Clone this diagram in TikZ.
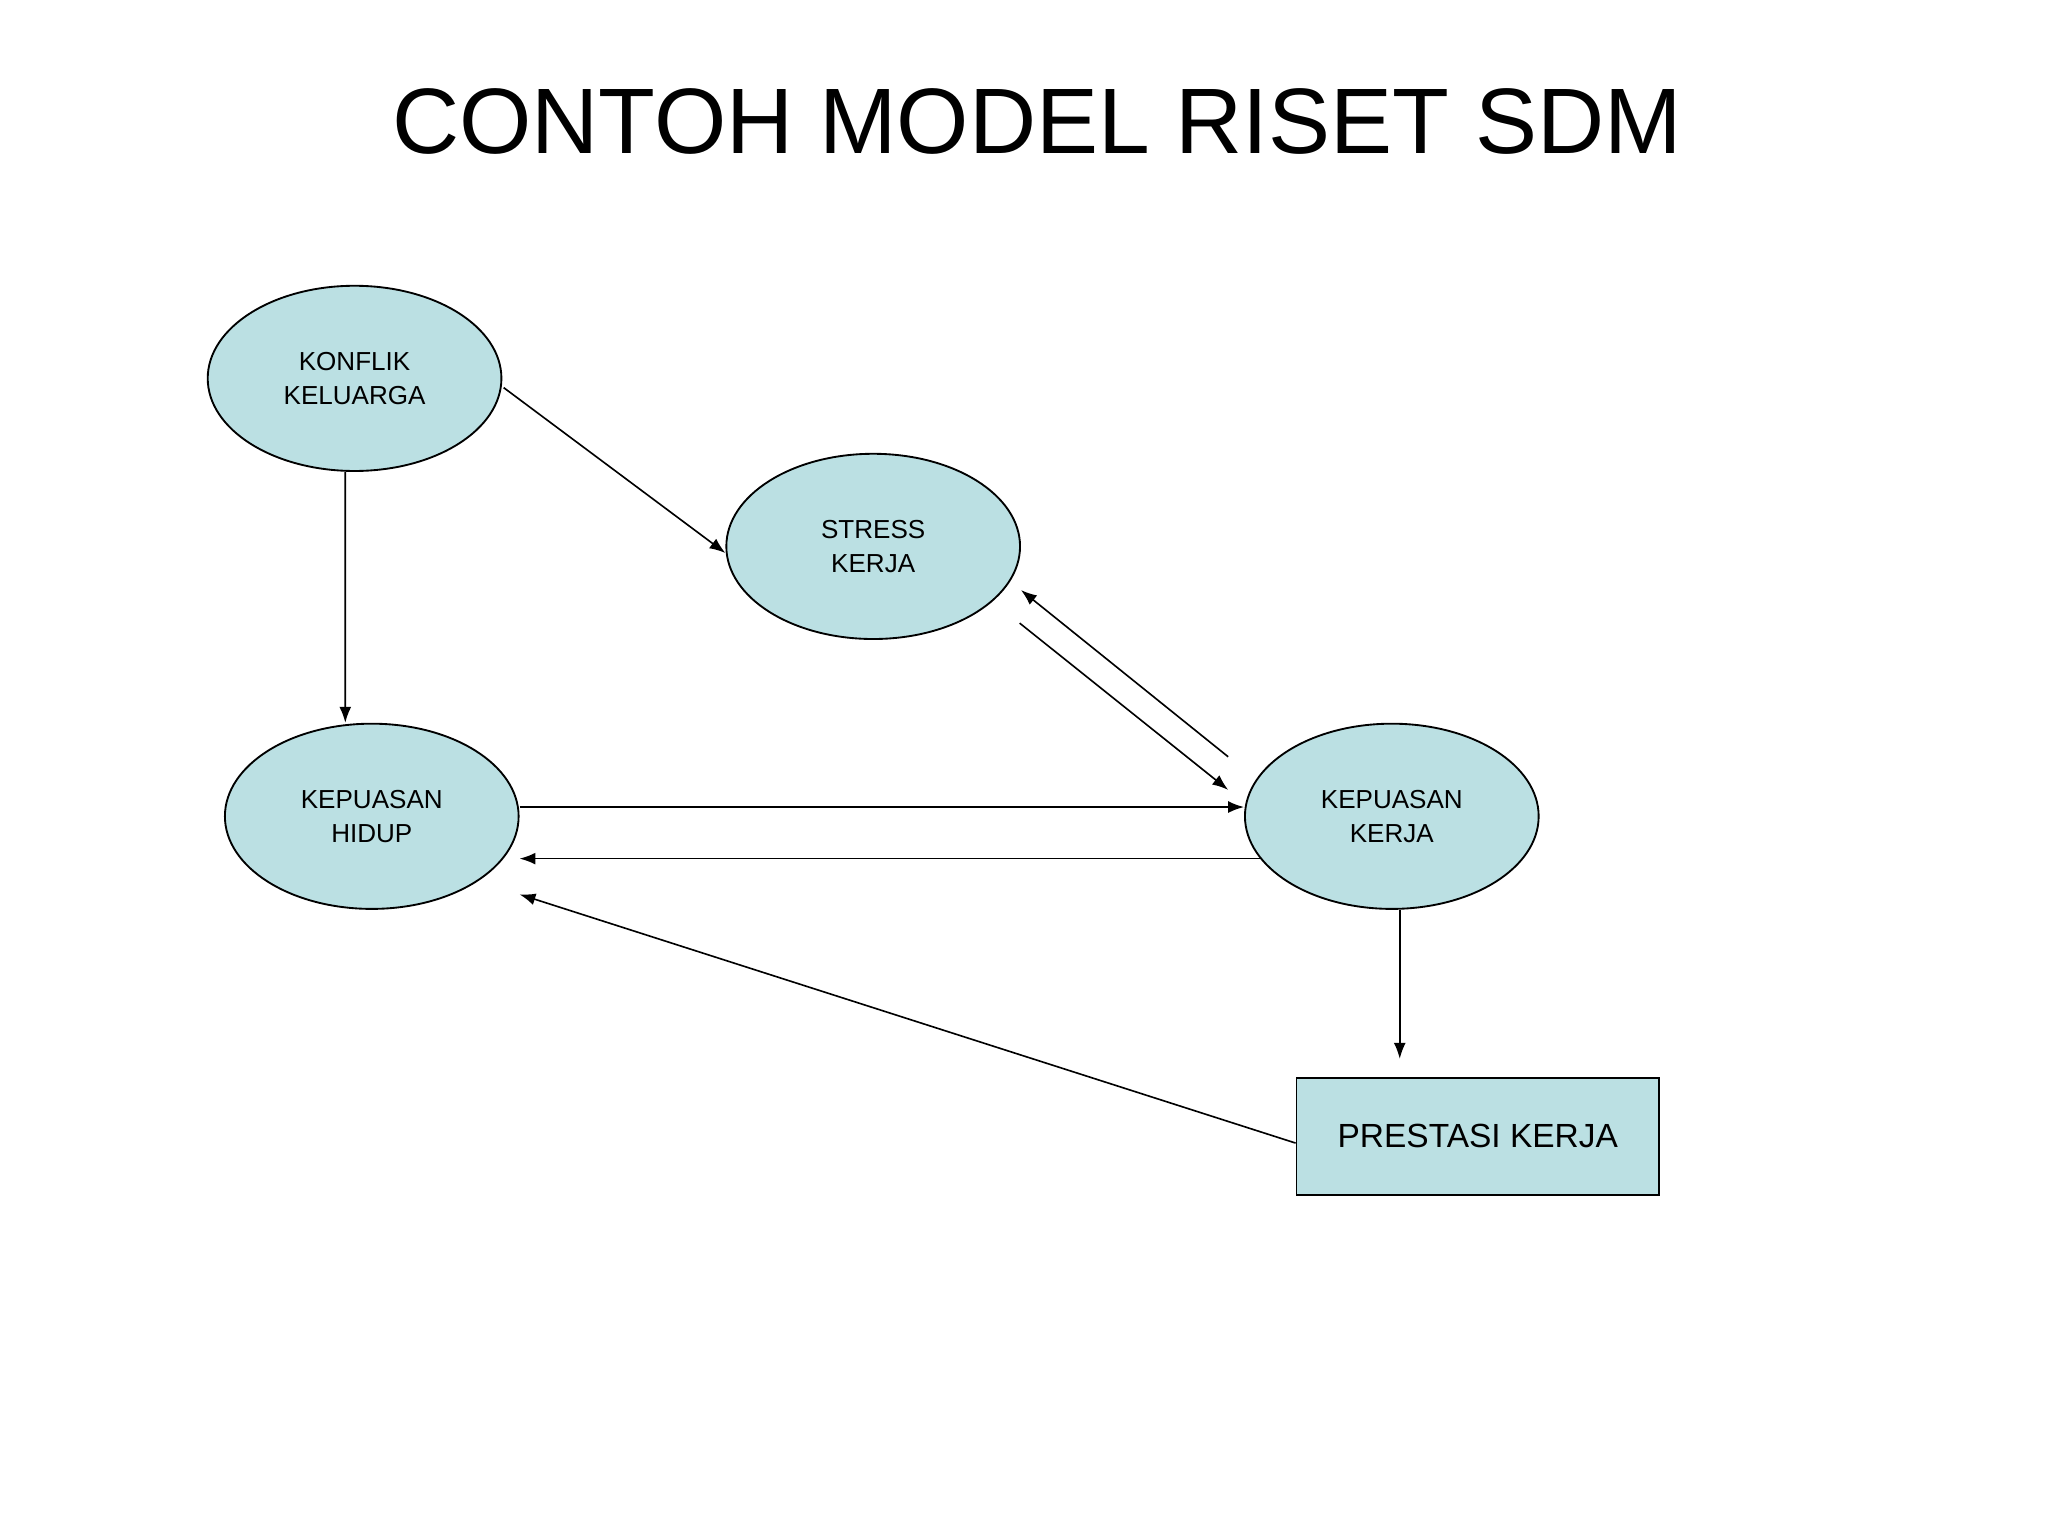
\documentclass[tikz,border=0pt]{standalone}
\usepackage{fontspec}
\setmainfont{Liberation Sans}
\usetikzlibrary{shapes.geometric, positioning, arrows.meta}
\definecolor{boxblue}{HTML}{BBE0E3}
\tikzset{
  var/.style={ellipse, draw, fill=boxblue, minimum width=2.22cm, minimum height=1.40cm,
    inner sep=0pt, align=center, font=\fontsize{5.6}{7.4}\selectfont},
  outcome/.style={rectangle, draw, fill=boxblue, minimum width=2.74cm, minimum height=0.88cm,
    font=\fontsize{7.2}{9}\selectfont},
  link/.style={-{Latex[length=0.12cm,width=0.09cm]}, line width=0.35pt}
}
\begin{document}
\begin{tikzpicture}
\useasboundingbox (0,0) rectangle (15.48,-11.61);
\node (title) at (7.84,-0.92) {\fontsize{20}{24}\selectfont CONTOH MODEL RISET SDM};
\node[var] (konflik) at (2.68,-2.86) {KONFLIK\\KELUARGA};
\node[var] (stress) at (6.60,-4.13) {STRESS\\KERJA};
\node[var] (hidup) at (2.81,-6.17) {KEPUASAN\\HIDUP};
\node[var] (kerja) at (10.52,-6.17) {KEPUASAN\\KERJA};
\node[outcome] (prestasi) at (11.17,-8.59) {PRESTASI KERJA};
% arrows
\draw[link] ([xshift=-0.07cm]konflik.south) -- ([xshift=-0.20cm]hidup.north);
\draw[link] ([xshift=0.01cm,yshift=-0.07cm]konflik.east) -- ([yshift=-0.05cm]stress.west);
\draw[link] ([xshift=-0.01cm,yshift=-0.58cm]stress.east) -- ([xshift=-0.12cm,yshift=0.20cm]kerja.west);
\draw[link] ([xshift=-0.12cm,yshift=0.45cm]kerja.west) -- ([yshift=-0.33cm]stress.east);
\draw[link] ([yshift=0.07cm]hidup.east) -- ([yshift=0.07cm]kerja.west);
\draw[link] ([xshift=0.12cm,yshift=-0.32cm]kerja.west) -- ([yshift=-0.32cm]hidup.east);
\draw[link, shorten >=0.14cm] ([xshift=0.06cm]kerja.south) -- (prestasi.north -| 10.58,0);
\draw[link] ([yshift=-0.05cm]prestasi.west) -- ([yshift=-0.59cm]hidup.east);
\end{tikzpicture}
\end{document}
